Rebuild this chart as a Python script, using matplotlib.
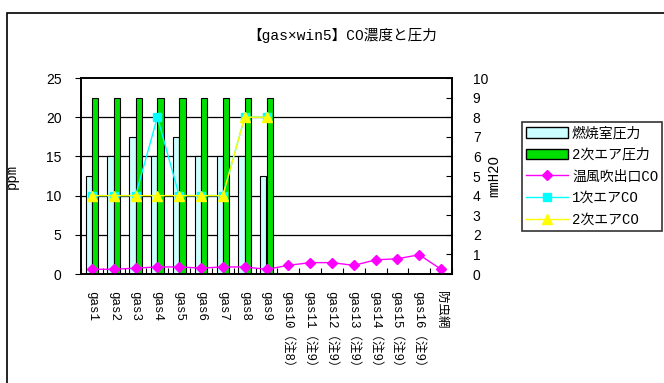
import numpy as np
import matplotlib
matplotlib.use("Agg")
import matplotlib.pyplot as plt
from matplotlib.patches import Patch, Rectangle
from matplotlib.lines import Line2D

# monospaced latin glyphs, CJK glyphs fall back to Noto
plt.rcParams["font.family"] = ["Liberation Mono", "Noto Sans CJK JP", "DejaVu Sans"]

# Categories and measured values
categories = ["gas1", "gas2", "gas3", "gas4", "gas5", "gas6", "gas7", "gas8", "gas9",
              "gas10（注8）", "gas11（注9）", "gas12（注9）", "gas13（注9）",
              "gas14（注9）", "gas15（注9）", "gas16（注9）", "防虫網"]

# pressures in mmH2O (only gas1-gas9 measured)
chamber_pressure = [5, 6, 7, 6, 7, 6, 6, 6, 5]
secondary_air_pressure = [9, 9, 9, 9, 9, 9, 9, 9, 9]

# CO concentrations in ppm
outlet_co = [0.6, 0.6, 0.75, 0.9, 0.9, 0.75, 0.9, 0.9, 0.6,
             1.1, 1.45, 1.45, 1.1, 1.8, 1.95, 2.45, 0.6]
primary_air_co = [10, 10, 10, 20, 10, 10, 10, 20, 20]
secondary_air_co = [10, 10, 10, 10, 10, 10, 10, 20, 20]

W, H = 664, 383
fig = plt.figure(figsize=(W / 100, H / 100), dpi=100)
ax = fig.add_axes([81 / W, 1 - 274 / H, (452 - 81) / W, (274 - 78) / H])
ax2 = ax.twinx()

# bars on the pressure axis, drawn underneath the CO lines
ax.set_zorder(ax2.get_zorder() + 1)
ax.patch.set_visible(False)
ax2.set_facecolor("#C0C0C0")

x = np.arange(len(categories))
n = len(chamber_pressure)
bw = 0.29
for yv in [2, 4, 6, 8]:
    ax2.axhline(yv, color="black", linewidth=0.9, zorder=0.5)
ax2.bar(x[:n] - bw / 2, chamber_pressure, width=bw, color="#CCFFFF",
        edgecolor="black", linewidth=0.8, zorder=2)
ax2.bar(x[:n] + bw / 2, secondary_air_pressure, width=bw, color="#00E000",
        edgecolor="black", linewidth=0.8, zorder=2)

ax.plot(x, outlet_co, color="#FF00FF", marker="D", markersize=5.5, linewidth=1)
ax.plot(x[:n], primary_air_co, color="#00FFFF", marker="s", markersize=5.5, linewidth=1)
ax.plot(x[:n], secondary_air_co, color="#FFFF00", marker="^", markersize=7, linewidth=1)

ax.set_xlim(-0.5, len(categories) - 0.5)
ax.set_ylim(0, 25)
ax2.set_ylim(0, 10)
ax.set_yticks(range(0, 26, 5))
ax2.set_yticks(range(0, 11))

ax.set_xticks(x)
ax.set_xticklabels(categories, rotation=-90, fontsize=9, va="top", ha="center")
ax.set_xticks(np.arange(-0.5, len(categories), 1), minor=True)
ax.tick_params(axis="x", which="major", length=0, pad=12)
ax.tick_params(axis="x", which="minor", length=4, direction="in", width=0.8)
ax.tick_params(axis="y", length=4, direction="out", width=0.8, labelsize=10, pad=10)
ax2.tick_params(axis="y", length=4, direction="in", width=0.8, labelsize=10, pad=15)
for lab in ax.get_yticklabels() + ax2.get_yticklabels():
    lab.set_family("Liberation Sans")

ax.set_ylabel("ppm", fontsize=10)
ax2.set_ylabel("mmH2O", fontsize=10, rotation=90)
ax.yaxis.set_label_coords((19 - 81) / 371, 0.5)
ax2.yaxis.set_label_coords((487 - 81) / 371, 0.5)

for a in (ax, ax2):
    for s in a.spines.values():
        s.set_linewidth(1.2)

fig.text(342 / W, 1 - 35 / H, "【gas×win5】CO濃度と圧力", fontsize=10.5,
         ha="center", va="center")

handles = [
    Patch(facecolor="#CCFFFF", edgecolor="black", linewidth=1),
    Patch(facecolor="#00E000", edgecolor="black", linewidth=1),
    Line2D([], [], color="#FF00FF", marker="D", markersize=5.5, linewidth=1),
    Line2D([], [], color="#00FFFF", marker="s", markersize=5.5, linewidth=1),
    Line2D([], [], color="#FFFF00", marker="^", markersize=7, linewidth=1),
]
labels = ["燃焼室圧力", "2次エア圧力", "温風吹出口CO", "1次エアCO", "2次エアCO"]
leg = fig.legend(handles, labels, loc="upper left",
                 bbox_to_anchor=(522 / W, 1 - 122 / H), fontsize=10,
                 frameon=True, fancybox=False, edgecolor="black",
                 handlelength=3.0, handleheight=0.8, labelspacing=0.55,
                 borderpad=0.3, handletextpad=0.3, borderaxespad=0)
leg.get_frame().set_linewidth(1.2)

# outer chart border (runs off the right and bottom edge)
fig.patches.append(Rectangle((7 / W, -0.1), 2, 1.1 - 13 / H, transform=fig.transFigure,
                             fill=False, edgecolor="black", linewidth=1.2))

fig.savefig("out.png", dpi=100)
